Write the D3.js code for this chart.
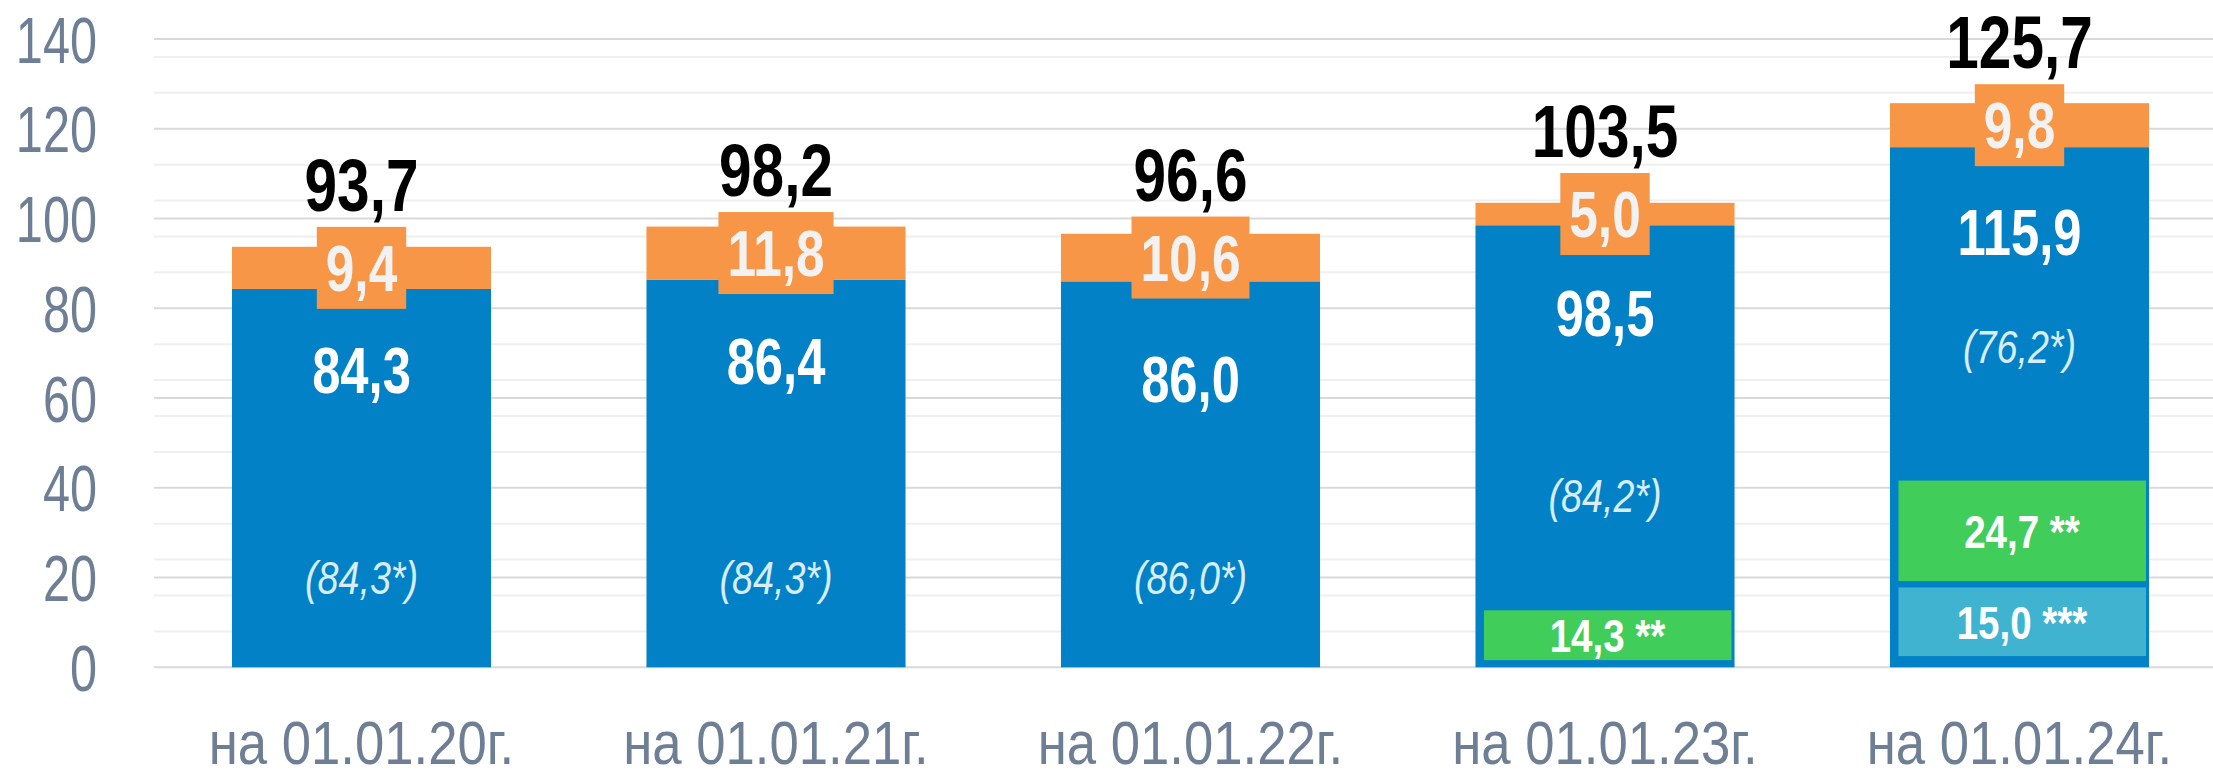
<!DOCTYPE html>
<html>
<head>
<meta charset="utf-8">
<script src="https://cdn.jsdelivr.net/npm/d3@7"></script>
<style>
  html, body { margin: 0; padding: 0; background: #ffffff; }
  svg { display: block; }
  text { font-family: "Liberation Sans", Arial, sans-serif; }
</style>
</head>
<body>
<svg id="chart" width="2213" height="770"></svg>
<script>
// ---- data ----
const categories = ["на 01.01.20г.", "на 01.01.21г.", "на 01.01.22г.", "на 01.01.23г.", "на 01.01.24г."];
const mainValues = [84.3, 86.4, 86.0, 98.5, 115.9];
const addValues = [9.4, 11.8, 10.6, 5.0, 9.8];
const totalValues = [93.7, 98.2, 96.6, 103.5, 125.7];
const mainLabelLevels = [66.2, 68.3, 64.2, 78.9, 97.1];
const noteLabels = ["(84,3*)", "(84,3*)", "(86,0*)", "(84,2*)", "(76,2*)"];
const noteLevels = [20, 20, 20, 38.2, 71.5];
const insetCategories = ["на 01.01.23г.", "на 01.01.24г.", "на 01.01.24г."];
const insetLabels = ["14,3 **", "24,7 **", "15,0 ***"];
const insetLow = [1.6, 19.2, 2.5];
const insetHigh = [12.7, 41.6, 17.8];
const insetKinds = ["green", "green", "teal"];
const yTicks = [0, 20, 40, 60, 80, 100, 120, 140];
const yMinorTicks = [8, 16, 24, 32, 48, 56, 64, 72, 88, 96, 104, 112, 128, 136];

const fmt = v => v.toFixed(1).replace(".", ",");

// horizontally condense a text (simulates a narrow face)
function squeeze(sel, s) {
  sel.each(function() {
    const t = d3.select(this);
    const x0 = +t.attr("x") || 0;
    t.attr("x", 0).attr("transform", `translate(${x0},0) scale(${s},1)`);
  });
}

// ---- setup ----
const svg = d3.select("#chart");
const W = 2213;
const x = d3.scaleBand().domain(categories).range([154.25, 2226.75]).paddingInner(0.375).paddingOuter(0.1875);
const y = d3.scaleLinear().domain([0, 140]).range([667.3, 39]);

const colors = { main: "#0281c6", add: "#f79646", green: "#41cd5a", teal: "#3fb3d0" };
const gridX0 = 154;

// grid
svg.append("g").selectAll("line").data(yMinorTicks).join("line")
  .attr("x1", gridX0).attr("x2", W)
  .attr("y1", d => y(d)).attr("y2", d => y(d))
  .attr("stroke", "#efefef").attr("stroke-width", 2);
svg.append("g").selectAll("line").data(yTicks).join("line")
  .attr("x1", gridX0).attr("x2", W)
  .attr("y1", d => y(d)).attr("y2", d => y(d))
  .attr("stroke", "#d9d9d9").attr("stroke-width", 2);

// y axis (labels only)
const yAxis = svg.append("g").attr("transform", "translate(97,0)")
  .call(d3.axisLeft(y).tickValues(yTicks).tickSize(0).tickPadding(0).tickFormat(d3.format("d")));
yAxis.select(".domain").remove();
yAxis.selectAll("text")
  .attr("font-family", "'Liberation Sans', Arial, sans-serif")
  .attr("font-size", 64).attr("fill", "#6d7e95")
  .attr("dy", 0).attr("y", 23)
  .call(squeeze, 0.76);

// x axis labels
const xAxis = svg.append("g").attr("transform", "translate(0,667)")
  .call(d3.axisBottom(x).tickSize(0).tickPadding(0));
xAxis.select(".domain").remove();
xAxis.selectAll("text")
  .attr("font-family", "'Liberation Sans', Arial, sans-serif")
  .attr("font-size", 62).attr("fill", "#6d7e95")
  .attr("dy", 0).attr("y", 97)
  .call(squeeze, 0.85);

const rows = categories.map((c, i) => ({ c, main: mainValues[i], add: addValues[i], total: totalValues[i], lvl: mainLabelLevels[i], note: noteLabels[i], noteLevel: noteLevels[i] }));

// main bars
svg.append("g").selectAll("rect").data(rows).join("rect")
  .attr("x", d => x(d.c)).attr("width", x.bandwidth())
  .attr("y", d => y(d.main)).attr("height", d => y(0) - y(d.main))
  .attr("fill", colors.main);
// add bars
svg.append("g").selectAll("rect").data(rows).join("rect")
  .attr("x", d => x(d.c)).attr("width", x.bandwidth())
  .attr("y", d => y(d.main + d.add)).attr("height", d => y(d.main) - y(d.main + d.add))
  .attr("fill", colors.add);

// inset boxes
const insets = insetLabels.map((l, i) => ({ c: insetCategories[i], label: l, lo: insetLow[i], hi: insetHigh[i], kind: insetKinds[i] }));
const ig = svg.append("g");
ig.selectAll("rect").data(insets).join("rect")
  .attr("x", d => x(d.c) + 8.5).attr("width", x.bandwidth() - 11.5)
  .attr("y", d => y(d.hi)).attr("height", d => y(d.lo) - y(d.hi))
  .attr("fill", d => colors[d.kind]);
ig.selectAll("text").data(insets).join("text")
  .attr("x", d => x(d.c) + x.bandwidth() / 2 + 2.5)
  .attr("y", d => (y(d.hi) + y(d.lo)) / 2 + 17)
  .attr("text-anchor", "middle").attr("font-weight", "bold")
  .attr("font-size", 47).attr("fill", "#ffffff")
  .text(d => d.label)
  .call(squeeze, 0.82);

// note labels (italic)
svg.append("g").selectAll("text").data(rows).join("text")
  .attr("x", d => x(d.c) + x.bandwidth() / 2)
  .attr("y", d => y(d.noteLevel) + 16.5)
  .attr("text-anchor", "middle").attr("font-style", "italic")
  .attr("font-size", 46).attr("fill", "#d7edf8")
  .text(d => d.note)
  .call(squeeze, 0.82);

// main value labels
svg.append("g").selectAll("text").data(rows).join("text")
  .attr("x", d => x(d.c) + x.bandwidth() / 2)
  .attr("y", d => y(d.lvl) + 23)
  .attr("text-anchor", "middle").attr("font-weight", "bold")
  .attr("font-size", 65).attr("fill", "#ffffff")
  .text(d => fmt(d.main))
  .call(squeeze, 0.78);

// orange value label boxes + totals
const og = svg.append("g");
og.selectAll("g").data(rows).join("g").each(function(d) {
  const g = d3.select(this);
  const cx = x(d.c) + x.bandwidth() / 2;
  const cy = (y(d.main) + y(d.main + d.add)) / 2;
  const s = 0.79;
  const r = g.append("rect").attr("fill", colors.add);
  const t = g.append("text")
    .attr("x", cx).attr("y", cy + 23)
    .attr("text-anchor", "middle").attr("font-weight", "bold")
    .attr("font-size", 65).attr("fill", "#f2f2f2")
    .text(fmt(d.add));
  const w = t.node().getComputedTextLength() * s + 18;
  t.call(squeeze, s);
  r.attr("x", cx - w / 2).attr("width", w).attr("y", cy - 41).attr("height", 82);
  g.append("text")
    .attr("x", cx).attr("y", cy - 57)
    .attr("text-anchor", "middle").attr("font-weight", "bold")
    .attr("font-size", 75).attr("fill", "#000000")
    .text(fmt(d.total))
    .call(squeeze, 0.78);
});
</script>
</body>
</html>
